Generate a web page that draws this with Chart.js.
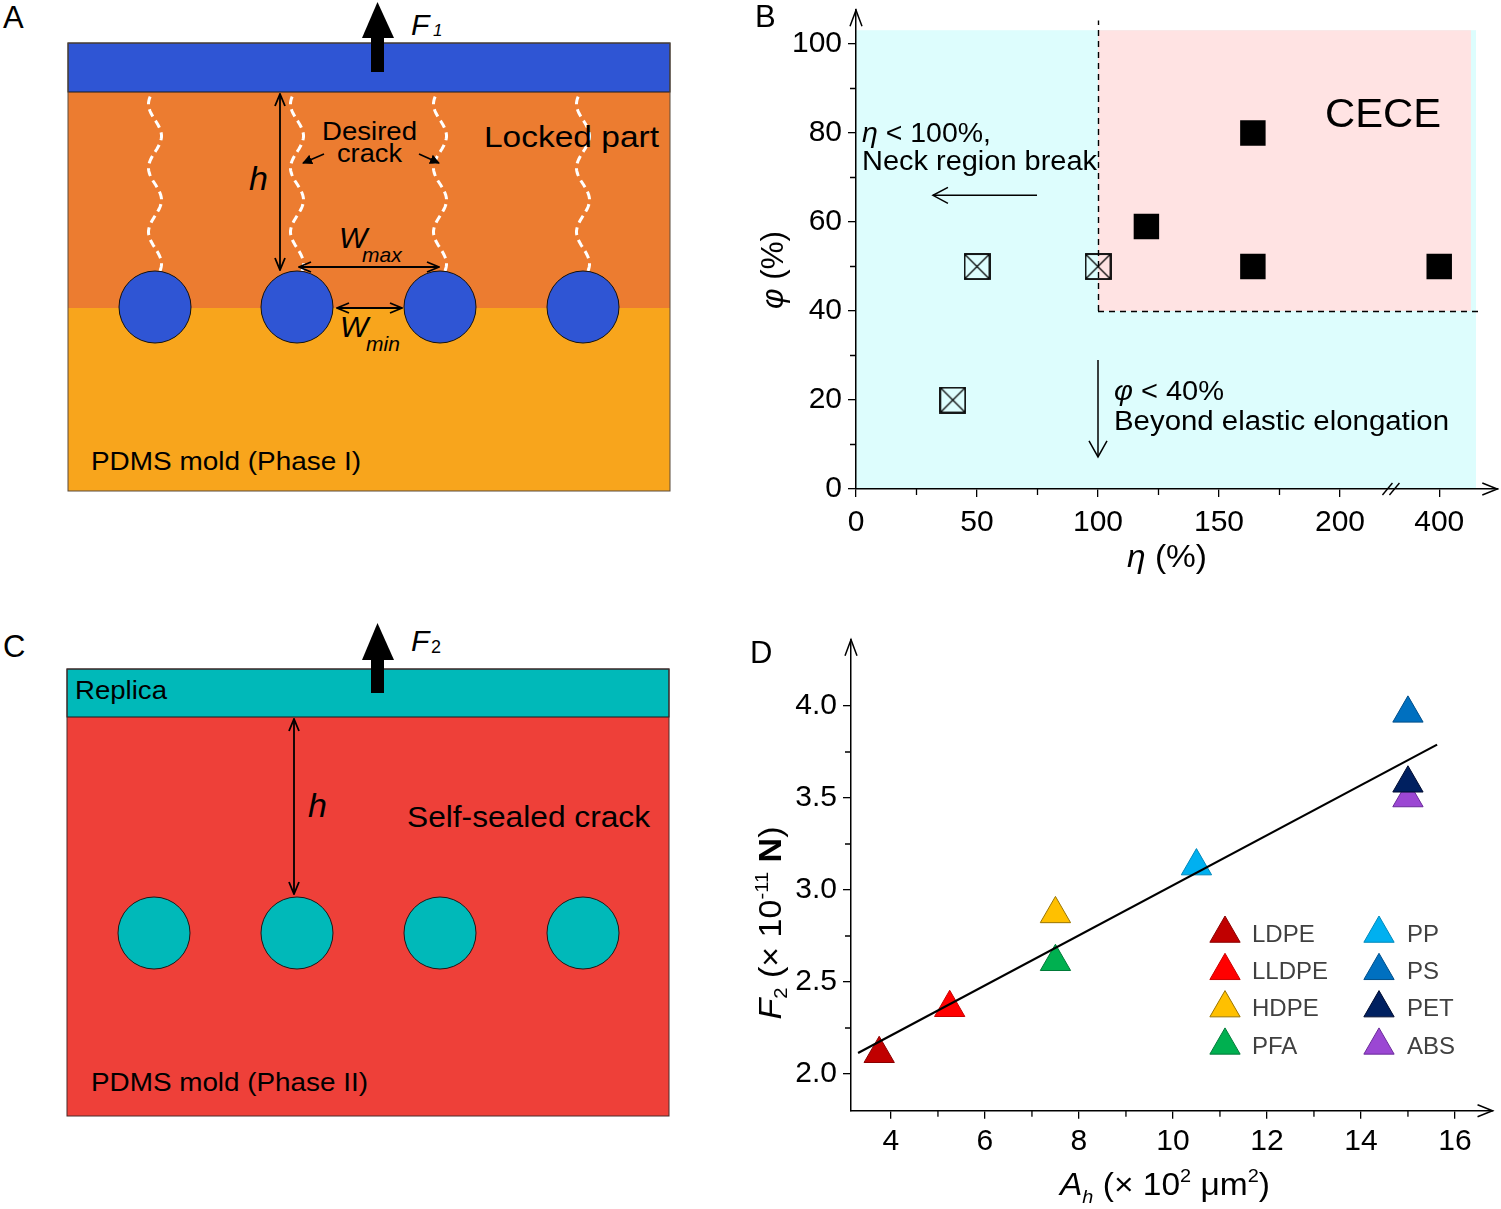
<!DOCTYPE html>
<html>
<head>
<meta charset="utf-8">
<script src="https://cdn.jsdelivr.net/npm/chart.js@4.4.1/dist/chart.umd.min.js"></script>
<style>
html, body { margin: 0; padding: 0; background: #fff; }
body { width: 1501px; height: 1209px; position: relative; overflow: hidden; }
#schem { position: absolute; left: 0; top: 0; }
#chartB { position: absolute; left: 750px; top: 0; }
#chartD { position: absolute; left: 740px; top: 620px; }
</style>
</head>
<body>
<svg id="schem" width="750" height="1209" xmlns="http://www.w3.org/2000/svg" font-family="Liberation Sans, Arial, sans-serif">
  <defs>
    <marker id="hd" viewBox="0 0 14 12" refX="13" refY="6" markerWidth="14" markerHeight="12" markerUnits="userSpaceOnUse" orient="auto-start-reverse">
      <path d="M1,1 L13,6 L1,11" fill="none" stroke="#000" stroke-width="1.8"/>
    </marker>
    <marker id="sm" viewBox="0 0 10 10" refX="9" refY="5" markerWidth="10" markerHeight="10" markerUnits="userSpaceOnUse" orient="auto">
      <path d="M0,0 L10,5 L0,10 z" fill="#000"/>
    </marker>
  </defs>

  <!-- A -->
  <text x="3" y="28" font-size="31">A</text>
  <rect x="68" y="92" width="602" height="216" fill="#EC7C30"/>
  <rect x="68" y="308" width="602" height="183" fill="#F8A51C"/>
  <rect x="68" y="43" width="602" height="49" fill="#2F55D4" stroke="#1a1a1a" stroke-width="1"/>
  <rect x="68" y="43" width="602" height="448" fill="none" stroke="#5a4a3a" stroke-width="1"/>
  <g id="cracks" fill="none" stroke="#fff" stroke-width="3" stroke-dasharray="8 5"></g>
  <g fill="#2F55D4" stroke="#111" stroke-width="1">
    <circle cx="155" cy="307" r="36"/>
    <circle cx="297" cy="307" r="36"/>
    <circle cx="440" cy="307" r="36"/>
    <circle cx="583" cy="307" r="36"/>
  </g>
  <rect x="371" y="37" width="13" height="35" fill="#000"/>
  <polygon points="362,38 377.5,2 394,38" fill="#000"/>
  <text x="411" y="35" font-size="30" font-style="italic">F</text>
  <text x="433" y="36" font-size="17" font-style="italic">1</text>
  <line x1="280" y1="94" x2="280" y2="270" stroke="#000" stroke-width="1.8" marker-start="url(#hd)" marker-end="url(#hd)"/>
  <text x="249" y="190" font-size="34" font-style="italic">h</text>
  <text x="322" y="140" font-size="26" textLength="95" lengthAdjust="spacingAndGlyphs">Desired</text>
  <text x="337" y="162" font-size="26" textLength="65" lengthAdjust="spacingAndGlyphs">crack</text>
  <line x1="324" y1="154" x2="303" y2="163" stroke="#000" stroke-width="1.6" marker-end="url(#sm)"/>
  <line x1="419" y1="154" x2="439" y2="163" stroke="#000" stroke-width="1.6" marker-end="url(#sm)"/>
  <text x="484" y="147" font-size="29" textLength="175" lengthAdjust="spacingAndGlyphs">Locked part</text>
  <line x1="299" y1="267" x2="439" y2="267" stroke="#000" stroke-width="1.8" marker-start="url(#hd)" marker-end="url(#hd)"/>
  <text x="339" y="248" font-size="30" font-style="italic">W</text>
  <text x="362" y="262" font-size="21" font-style="italic">max</text>
  <line x1="337" y1="308" x2="402" y2="308" stroke="#000" stroke-width="1.8" marker-start="url(#hd)" marker-end="url(#hd)"/>
  <text x="340" y="337" font-size="30" font-style="italic">W</text>
  <text x="366" y="351" font-size="21" font-style="italic">min</text>
  <text x="91" y="470" font-size="26" textLength="270" lengthAdjust="spacingAndGlyphs">PDMS mold (Phase I)</text>

  <!-- C -->
  <text x="3" y="657" font-size="31">C</text>
  <rect x="67" y="717" width="602" height="399" fill="#EE4039"/>
  <rect x="67" y="669" width="602" height="48" fill="#00B9B9" stroke="#1a1a1a" stroke-width="1"/>
  <rect x="67" y="669" width="602" height="447" fill="none" stroke="#4a2a2a" stroke-width="1"/>
  <g fill="#00B9B9" stroke="#1a1a1a" stroke-width="1">
    <circle cx="154" cy="933" r="36"/>
    <circle cx="297" cy="933" r="36"/>
    <circle cx="440" cy="933" r="36"/>
    <circle cx="583" cy="933" r="36"/>
  </g>
  <text x="75" y="699" font-size="26" textLength="92" lengthAdjust="spacingAndGlyphs">Replica</text>
  <rect x="371" y="659" width="13" height="34" fill="#000"/>
  <polygon points="362,660 377.5,623 394,660" fill="#000"/>
  <text x="411" y="651" font-size="30" font-style="italic">F</text>
  <text x="431" y="653" font-size="18">2</text>
  <line x1="294" y1="719" x2="294" y2="894" stroke="#000" stroke-width="1.8" marker-start="url(#hd)" marker-end="url(#hd)"/>
  <text x="308" y="817" font-size="34" font-style="italic">h</text>
  <text x="407" y="827" font-size="30" textLength="243" lengthAdjust="spacingAndGlyphs">Self-sealed crack</text>
  <text x="91" y="1091" font-size="26" textLength="277" lengthAdjust="spacingAndGlyphs">PDMS mold (Phase II)</text>
</svg>

<canvas id="chartB" width="751" height="580"></canvas>
<canvas id="chartD" width="761" height="589"></canvas>

<script>
const FF = '"Liberation Sans", Arial, sans-serif';
Chart.defaults.font.family = FF;
Chart.defaults.color = '#000';

// ---- panel B: eta / phi map ----
const etaFilled = [164, 120, 164, 400];
const phiFilled = [80, 59, 50, 50];
const etaCrossed = [50, 100, 40];
const phiCrossed = [50, 50, 20];
const etaTicks = [0, 50, 100, 150, 200, 400];
const etaMinor = [25, 75, 125, 175];
const phiTicks = [0, 20, 40, 60, 80, 100];
const phiMinor = [10, 30, 50, 70, 90];

// ---- panel D: F2 vs Ah ----
const materials = ['LDPE', 'LLDPE', 'HDPE', 'PFA', 'PP', 'PS', 'PET', 'ABS'];
const areaAh = [3.75, 5.25, 7.5, 7.5, 10.5, 15, 15, 15];
const forceF2 = [2.11, 2.36, 2.87, 2.61, 3.13, 3.96, 3.58, 3.5];
const fitAh = [3.3, 15.62];
const fitF2 = [2.114, 3.79];
const ahTicks = [4, 6, 8, 10, 12, 14, 16];
const ahMinor = [5, 7, 9, 11, 13, 15];
const f2Ticks = [2.0, 2.5, 3.0, 3.5, 4.0];
const f2Minor = [2.25, 2.75, 3.25, 3.75];

const matFill = ['#C00000', '#FF0000', '#FFC000', '#00B050', '#00B0F0', '#0070C0', '#002060', '#9B47D3'];
const matEdge = ['#8A0000', '#C80000', '#9A7400', '#007A38', '#0088BB', '#004F8A', '#000C30', '#6A2A9A'];

// the eta axis is broken after 200; 400 sits at this spot of the linear scale
const POS_400 = 241;
const etaPos = v => (v >= 400 ? POS_400 : v);

// cracks in panel A (decoration)
(function () {
  const g = document.getElementById('cracks');
  [155, 297, 440, 583].forEach(cx => {
    let d = '';
    for (let yy = 271; yy >= 93; yy -= 2) {
      const xx = cx + 6.5 * Math.sin((271 - yy) / 64 * 2 * Math.PI + 0.88);
      d += (d ? 'L' : 'M') + xx.toFixed(1) + ',' + yy + ' ';
    }
    const p = document.createElementNS('http://www.w3.org/2000/svg', 'path');
    p.setAttribute('d', d);
    g.appendChild(p);
  });
})();

function crossBox(size) {
  const c = document.createElement('canvas');
  c.width = size; c.height = size;
  const g = c.getContext('2d');
  g.strokeStyle = '#000';
  g.lineWidth = 1.8;
  g.strokeRect(1, 1, size - 2, size - 2);
  g.lineWidth = 1.2;
  g.beginPath();
  g.moveTo(2, 2); g.lineTo(size - 2, size - 2);
  g.moveTo(size - 2, 2); g.lineTo(2, size - 2);
  g.stroke();
  return c;
}

// mixed-font text, centred or left aligned, optionally stretched to a width
function richText(ctx, parts, x, y, opt) {
  opt = opt || {};
  ctx.save();
  ctx.translate(x, y);
  if (opt.rot) ctx.rotate(opt.rot);
  ctx.textBaseline = 'alphabetic';
  ctx.textAlign = 'left';
  ctx.fillStyle = opt.color || '#000';
  let w = 0;
  parts.forEach(p => { ctx.font = p.f; p.w = ctx.measureText(p.t).width; w += p.w; });
  const sx = opt.width ? opt.width / w : 1;
  ctx.scale(sx, 1);
  let cx = opt.align === 'left' ? 0 : -w / 2;
  parts.forEach(p => { ctx.font = p.f; ctx.fillText(p.t, cx, p.dy || 0); cx += p.w; });
  ctx.restore();
}

function minorTicks(ctx, scale, values, len, horizontal) {
  ctx.beginPath();
  values.forEach(v => {
    const p = scale.getPixelForValue(v);
    if (horizontal) { ctx.moveTo(p, scale.top); ctx.lineTo(p, scale.top + len); }
    else { ctx.moveTo(scale.right, p); ctx.lineTo(scale.right - len, p); }
  });
  ctx.stroke();
}

function chevron(ctx, tx, ty, ax, ay, bx, by) {
  ctx.beginPath();
  ctx.moveTo(ax, ay); ctx.lineTo(tx, ty); ctx.lineTo(bx, by);
  ctx.stroke();
}

function axisArrows(ctx, area) {
  ctx.strokeStyle = '#000';
  ctx.lineWidth = 1.5;
  chevron(ctx, area.left, area.top, area.left - 6, area.top + 16, area.left + 6, area.top + 16);
  chevron(ctx, area.right, area.bottom, area.right - 15, area.bottom - 6, area.right - 15, area.bottom + 6);
}

function fixedAxis(size, horizontal) {
  return s => {
    if (horizontal) s.height = size; else s.width = size;
    s.paddingLeft = 0; s.paddingRight = 0; s.paddingTop = 0; s.paddingBottom = 0;
  };
}

const it = (px) => 'italic ' + px + 'px ' + FF;
const rg = (px) => px + 'px ' + FF;

const phaseB = {
  id: 'phaseB',
  beforeDraw(chart) {
    const { ctx, scales: { x, y } } = chart;
    const box = (x0, x1, y0, y1) => {
      const l = x.getPixelForValue(x0), r = x.getPixelForValue(x1);
      const t = y.getPixelForValue(y1), b = y.getPixelForValue(y0);
      ctx.fillRect(l, t, r - l, b - t);
    };
    ctx.save();
    ctx.fillStyle = '#DDFDFD';
    box(0, 256.2, 0, 103.1);
    ctx.fillStyle = '#FFE3E3';
    box(100, 254.1, 40, 103.1);
    ctx.restore();
  },
  beforeDatasetsDraw(chart) {
    const { ctx, scales: { x, y } } = chart;
    ctx.save();
    ctx.strokeStyle = '#000';
    ctx.lineWidth = 1.4;
    ctx.setLineDash([6, 5]);
    ctx.beginPath();
    ctx.moveTo(Math.round(x.getPixelForValue(100)) + 0.5, y.getPixelForValue(40));
    ctx.lineTo(Math.round(x.getPixelForValue(100)) + 0.5, y.getPixelForValue(105.3));
    ctx.moveTo(x.getPixelForValue(100), Math.round(y.getPixelForValue(40)) + 0.5);
    ctx.lineTo(x.getPixelForValue(258), Math.round(y.getPixelForValue(40)) + 0.5);
    ctx.stroke();
    ctx.restore();
  },
  afterDraw(chart) {
    const { ctx, chartArea, scales: { x, y } } = chart;
    ctx.save();
    ctx.strokeStyle = '#000';
    ctx.lineWidth = 1.3;
    minorTicks(ctx, x, etaMinor, 6, true);
    minorTicks(ctx, y, phiMinor, 6, false);
    axisArrows(ctx, chartArea);

    // axis break marks
    ctx.lineWidth = 1.4;
    [219.6, 222.5].forEach(v => {
      const p = x.getPixelForValue(v);
      ctx.beginPath();
      ctx.moveTo(p - 5, chartArea.bottom + 6);
      ctx.lineTo(p + 5, chartArea.bottom - 6);
      ctx.stroke();
    });

    // annotation arrows
    ctx.lineWidth = 1.5;
    const ay = y.getPixelForValue(66);
    const ax0 = x.getPixelForValue(74.8), ax1 = x.getPixelForValue(31.8);
    ctx.beginPath(); ctx.moveTo(ax0, ay); ctx.lineTo(ax1, ay); ctx.stroke();
    chevron(ctx, ax1, ay, ax1 + 15, ay - 8, ax1 + 15, ay + 8);
    const dx = x.getPixelForValue(100);
    const dy0 = y.getPixelForValue(29), dy1 = y.getPixelForValue(7.2);
    ctx.beginPath(); ctx.moveTo(dx, dy0); ctx.lineTo(dx, dy1); ctx.stroke();
    chevron(ctx, dx, dy1, dx - 9, dy1 - 16, dx + 9, dy1 - 16);

    // texts
    richText(ctx, [{ t: 'CECE', f: rg(40) }], 633, 127, { width: 116 });
    richText(ctx, [{ t: 'η', f: it(27) }, { t: ' < 100%,', f: rg(27) }], 112, 142, { align: 'left', width: 129 });
    richText(ctx, [{ t: 'Neck region break', f: rg(27) }], 112, 170, { align: 'left', width: 235 });
    richText(ctx, [{ t: 'φ', f: it(27) }, { t: ' < 40%', f: rg(27) }], 364, 400, { align: 'left', width: 110 });
    richText(ctx, [{ t: 'Beyond elastic elongation', f: rg(27) }], 364, 430, { align: 'left', width: 335 });
    richText(ctx, [{ t: 'η', f: it(32) }, { t: ' (%)', f: rg(32) }], 417, 567, { width: 80 });
    richText(ctx, [{ t: 'φ', f: it(32) }, { t: ' (%)', f: rg(32) }], 33, 270, { rot: -Math.PI / 2, width: 78 });
    richText(ctx, [{ t: 'B', f: rg(31) }], 5, 27, { align: 'left' });
    ctx.restore();
  }
};

new Chart(document.getElementById('chartB'), {
  type: 'scatter',
  data: {
    datasets: [
      {
        data: etaFilled.map((e, i) => ({ x: etaPos(e), y: phiFilled[i] })),
        pointStyle: 'rect',
        pointRadius: 18,
        backgroundColor: '#000',
        borderWidth: 0,
      },
      {
        data: etaCrossed.map((e, i) => ({ x: etaPos(e), y: phiCrossed[i] })),
        pointStyle: crossBox(27),
        pointRadius: 14,
      },
    ],
  },
  options: {
    responsive: false,
    animation: false,
    events: [],
    layout: { autoPadding: false, padding: { left: 0, right: 3.7, top: 10.2, bottom: 0 } },
    plugins: { legend: { display: false }, tooltip: { enabled: false } },
    scales: {
      x: {
        type: 'linear', min: 0, max: 265,
        afterBuildTicks: s => { s.ticks = etaTicks.map(v => ({ value: etaPos(v) })); },
        afterFit: fixedAxis(91, true),
        grid: { drawOnChartArea: false, drawTicks: true, tickLength: 8, color: '#000', lineWidth: 1.3 },
        border: { color: '#000', width: 1.5 },
        ticks: {
          autoSkip: false, maxRotation: 0, padding: 8, color: '#000',
          font: { size: 30 },
          callback: (v, i) => String(etaTicks[i]),
        },
      },
      y: {
        type: 'linear', min: 0, max: 107.6,
        afterBuildTicks: s => { s.ticks = phiTicks.map(v => ({ value: v })); },
        afterFit: fixedAxis(106, false),
        grid: { drawOnChartArea: false, drawTicks: true, tickLength: 8, color: '#000', lineWidth: 1.3 },
        border: { color: '#000', width: 1.5 },
        ticks: { autoSkip: false, padding: 6, color: '#000', font: { size: 30 }, callback: v => String(v) },
      },
    },
  },
  plugins: [phaseB],
});

const panelD = {
  id: 'panelD',
  afterDraw(chart) {
    const { ctx, chartArea, scales: { x, y } } = chart;
    ctx.save();
    ctx.strokeStyle = '#000';
    ctx.lineWidth = 1.3;
    minorTicks(ctx, x, ahMinor, 6, true);
    minorTicks(ctx, y, f2Minor, 6, false);
    axisArrows(ctx, chartArea);

    // legend, two columns
    materials.forEach((m, i) => {
      const col = i < 4 ? 0 : 1, row = i % 4;
      const px = col ? 639 : 485;
      const py = 313.5 + row * 37.3;
      ctx.fillStyle = matFill[i];
      ctx.strokeStyle = matEdge[i];
      ctx.lineWidth = 1;
      Chart.helpers.drawPoint(ctx, { pointStyle: 'triangle', radius: 17.5, borderWidth: 1, rotation: 0 }, px, py);
      richText(ctx, [{ t: m, f: rg(24) }], col ? 667 : 512, 321.7 + row * 37.3, { align: 'left', color: '#404040' });
    });

    richText(ctx, [
      { t: 'A', f: it(32) }, { t: 'h', f: it(19), dy: 8 },
      { t: ' (× 10', f: rg(32) }, { t: '2', f: rg(19), dy: -13 },
      { t: ' μm', f: rg(32) }, { t: '2', f: rg(19), dy: -13 }, { t: ')', f: rg(32) },
    ], 425, 575, { width: 210 });
    richText(ctx, [
      { t: 'F', f: it(32) }, { t: '2', f: rg(19), dy: 6 },
      { t: ' (× 10', f: rg(32) }, { t: '-11', f: rg(19), dy: -13 },
      { t: ' ', f: rg(32) }, { t: 'N', f: 'bold 32px ' + FF }, { t: ')', f: rg(32) },
    ], 41, 303, { rot: -Math.PI / 2, width: 193 });
    richText(ctx, [{ t: 'D', f: rg(31) }], 10, 43, { align: 'left' });
    ctx.restore();
  }
};

const pointSets = materials.map((m, i) => ({
  label: m,
  data: [{ x: areaAh[i], y: forceF2[i] }],
  pointStyle: 'triangle',
  pointRadius: 17.5,
  backgroundColor: matFill[i],
  borderColor: matEdge[i],
  borderWidth: 1,
}));

new Chart(document.getElementById('chartD'), {
  type: 'scatter',
  data: {
    datasets: [
      {
        label: 'fit',
        type: 'line',
        data: fitAh.map((a, i) => ({ x: a, y: fitF2[i] })),
        borderColor: '#000',
        borderWidth: 2.2,
        pointRadius: 0,
        fill: false,
      },
      ...pointSets,
    ],
  },
  options: {
    responsive: false,
    animation: false,
    events: [],
    layout: { autoPadding: false, padding: { left: 0, right: 8.45, top: 19.76, bottom: 0 } },
    plugins: { legend: { display: false }, tooltip: { enabled: false } },
    scales: {
      x: {
        type: 'linear', min: 3.15, max: 16.8,
        afterBuildTicks: s => { s.ticks = ahTicks.map(v => ({ value: v })); },
        afterFit: fixedAxis(98.2, true),
        grid: { drawOnChartArea: false, drawTicks: true, tickLength: 8, color: '#000', lineWidth: 1.3 },
        border: { color: '#000', width: 1.5 },
        ticks: { autoSkip: false, maxRotation: 0, padding: 5, color: '#000', font: { size: 30 }, callback: v => String(v) },
      },
      y: {
        type: 'linear', min: 1.8, max: 4.36,
        afterBuildTicks: s => { s.ticks = f2Ticks.map(v => ({ value: v })); },
        afterFit: fixedAxis(111, false),
        grid: { drawOnChartArea: false, drawTicks: true, tickLength: 8, color: '#000', lineWidth: 1.3 },
        border: { color: '#000', width: 1.5 },
        ticks: { autoSkip: false, padding: 6, color: '#000', font: { size: 30 }, callback: v => v.toFixed(1) },
      },
    },
  },
  plugins: [panelD],
});
</script>
</body>
</html>
